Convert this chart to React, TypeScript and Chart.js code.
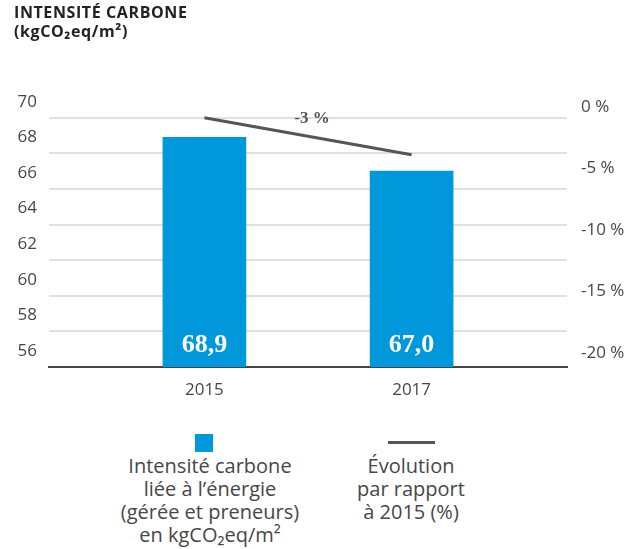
import React, { useEffect, useRef } from "react";
import { Chart, registerables } from "chart.js";

Chart.register(...registerables);

const CATEGORIES = ["2015", "2017"];
const INTENSITY = [68.9, 67.0];
const EVOLUTION = [0, -3];
const EVOLUTION_LABEL = "-3 %";
const LEFT_TICKS = [56, 58, 60, 62, 64, 66, 68, 70];
const RIGHT_TICKS = [0, -5, -10, -15, -20];
const TITLE_LINES = ["INTENSITÉ CARBONE", "(kgCO₂eq/m²)"];
const BAR_LEGEND = ["Intensité carbone", "liée à l’énergie", "(gérée et preneurs)", "en kgCO₂eq/m²"];
const LINE_LEGEND = ["Évolution", "par rapport", "à 2015 (%)"];

const BAR_COLOR = "#0098DA";
const LINE_COLOR = "#555555";
const TEXT_COLOR = "#474747";
const FONT = "'Open Sans', sans-serif";

const fmt = (v: number) => v.toFixed(1).replace(".", ",");

const labelPlugin = {
  id: "valueLabels",
  afterDatasetsDraw(chart: any) {
    const ctx = chart.ctx;
    ctx.save();
    ctx.textAlign = "center";
    ctx.textBaseline = "middle";
    const barMeta = chart.getDatasetMeta(0);
    ctx.fillStyle = "#ffffff";
    ctx.font = "bold 26px 'Liberation Serif', serif";
    barMeta.data.forEach((bar: any, i: number) => {
      ctx.fillText(fmt(INTENSITY[i]), bar.x, chart.chartArea.bottom - 22);
    });
    const lm = chart.getDatasetMeta(1);
    const p0 = lm.data[0];
    const p1 = lm.data[lm.data.length - 1];
    ctx.fillStyle = LINE_COLOR;
    ctx.font = "bold 17px 'Liberation Serif', serif";
    ctx.fillText(EVOLUTION_LABEL, (p0.x + p1.x) / 2 + 4, (p0.y + p1.y) / 2 - 18);
    ctx.restore();
  },
};

export default function App() {
  const ref = useRef<HTMLCanvasElement>(null);

  useEffect(() => {
    document.body.style.margin = "0";
    const chart = new Chart(ref.current as HTMLCanvasElement, {
      type: "bar",
      data: {
        datasets: [
          {
            type: "bar",
            label: BAR_LEGEND.join(" "),
            data: INTENSITY.map((v, i) => ({ x: i, y: v })),
            backgroundColor: BAR_COLOR,
            barThickness: 83,
            yAxisID: "y",
            order: 2,
          } as any,
          {
            type: "line",
            label: LINE_LEGEND.join(" "),
            data: EVOLUTION.map((v, i) => ({ x: i, y: v })),
            borderColor: LINE_COLOR,
            borderWidth: 3,
            pointRadius: 0,
            yAxisID: "y1",
            order: 1,
          } as any,
        ],
      },
      options: {
        animation: false,
        responsive: false,
        maintainAspectRatio: false,
        layout: { padding: { top: 100, left: 0, right: 0, bottom: 0 } },
        plugins: { legend: { display: false }, tooltip: { enabled: false } },
        scales: {
          x: {
            type: "linear",
            offset: false,
            min: -0.75,
            max: 1.75,
            bounds: "ticks",
            afterDataLimits: (s: any) => {
              s.min = -0.75;
              s.max = 1.75;
            },
            afterBuildTicks: (s: any) => {
              s.ticks = CATEGORIES.map((_, i) => ({ value: i }));
            },
            afterFit: (s: any) => {
              s.height = 33;
            },
            ticks: {
              callback: (v: any) => CATEGORIES[v] ?? "",
              color: TEXT_COLOR,
              font: { family: FONT, size: 17 },
              padding: 13,
            },
            grid: { display: false, drawTicks: false },
            border: { display: true, color: "#444", width: 2 },
          },
          y: {
            type: "linear",
            position: "left",
            min: 56,
            max: 71,
            afterBuildTicks: (s: any) => {
              s.ticks = LEFT_TICKS.map((v) => ({ value: v }));
            },
            afterFit: (s: any) => {
              s.width = 49;
            },
            ticks: {
              color: TEXT_COLOR,
              font: { family: FONT, size: 17 },
              padding: 12,
              labelOffset: -16,
            },
            grid: {
              drawTicks: false,
              color: (c: any) => (c.tick && c.tick.value === 56 ? "#444" : "#e0e0e0"),
              lineWidth: 2,
            },
            border: { display: false },
          },
          y1: {
            type: "linear",
            position: "right",
            min: -20.25,
            max: 1.45,
            afterBuildTicks: (s: any) => {
              s.ticks = RIGHT_TICKS.map((v) => ({ value: v }));
            },
            afterFit: (s: any) => {
              s.width = 71;
            },
            ticks: {
              color: TEXT_COLOR,
              font: { family: FONT, size: 17 },
              padding: 14,
              labelOffset: -11,
              callback: (v: any) => `${v} %`,
            },
            grid: { display: false, drawTicks: false },
            border: { display: false },
          },
        },
      } as any,
      plugins: [labelPlugin],
    });
    return () => chart.destroy();
  }, []);

  const legendText: React.CSSProperties = {
    position: "absolute",
    textAlign: "center",
    fontFamily: FONT,
    fontSize: 20,
    lineHeight: "23px",
    color: TEXT_COLOR,
    whiteSpace: "nowrap",
    transform: "translateX(-50%)",
  };

  return (
    <div style={{ position: "relative", width: 638, height: 549, background: "#fff" }}>
      <canvas ref={ref} width={638} height={400} style={{ position: "absolute", left: 0, top: 0 }} />
      <div
        style={{
          position: "absolute",
          left: 14,
          top: 3,
          fontFamily: FONT,
          fontWeight: 700,
          fontSize: 16,
          letterSpacing: "0.6px",
          lineHeight: "19px",
          color: "#222",
        }}
      >
        {TITLE_LINES.map((t) => (
          <div key={t}>{t}</div>
        ))}
      </div>
      <div style={{ position: "absolute", left: 195, top: 434, width: 18, height: 18, background: BAR_COLOR }} />
      <div style={{ ...legendText, left: 210, top: 454 }}>
        {BAR_LEGEND.map((t) => (
          <div key={t}>{t}</div>
        ))}
      </div>
      <div style={{ position: "absolute", left: 388, top: 441, width: 47, height: 3, background: LINE_COLOR }} />
      <div style={{ ...legendText, left: 411, top: 454 }}>
        {LINE_LEGEND.map((t) => (
          <div key={t}>{t}</div>
        ))}
      </div>
    </div>
  );
}
